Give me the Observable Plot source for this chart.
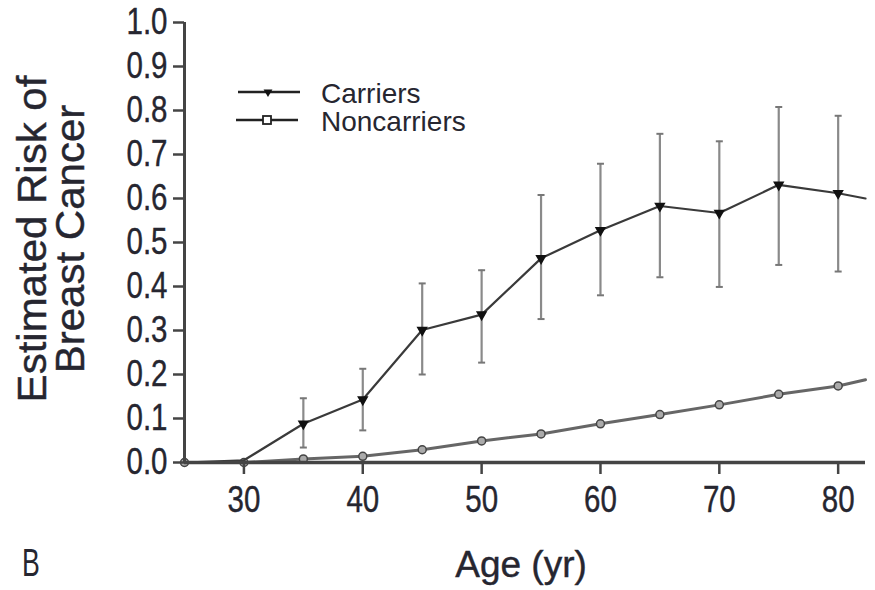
<!DOCTYPE html>
<html><head><meta charset="utf-8">
<script src="https://cdn.jsdelivr.net/npm/d3@7"></script>
<script src="https://cdn.jsdelivr.net/npm/@observablehq/plot@0.6"></script>
<style>body{margin:0;background:#fff}</style>
</head><body><div id="chart"></div>
<script>
// ---- data ----
const ages = [25, 30, 35, 40, 45, 50, 55, 60, 65, 70, 75, 80];
const carriers     = [0.000, 0.005, 0.088, 0.143, 0.301, 0.336, 0.464, 0.528, 0.583, 0.567, 0.631, 0.612];
const carriersLow  = [null, null, 0.034, 0.073, 0.200, 0.227, 0.326, 0.380, 0.421, 0.399, 0.449, 0.434];
const carriersHigh = [null, null, 0.146, 0.213, 0.407, 0.437, 0.608, 0.679, 0.747, 0.730, 0.808, 0.788];
const noncarriers  = [0.000, 0.000, 0.008, 0.014, 0.029, 0.049, 0.065, 0.088, 0.109, 0.131, 0.155, 0.174];
// line continues to the right edge of the frame
const edgeAge = 82.3;
const carriersEdge = 0.600;
const noncarriersEdge = 0.188;
const seriesNames = ["Carriers", "Noncarriers"];
const xTicks = [30, 40, 50, 60, 70, 80];
const yTicks = [0, 0.1, 0.2, 0.3, 0.4, 0.5, 0.6, 0.7, 0.8, 0.9, 1.0];
const xTitle = "Age (yr)";
const yTitle = ["Estimated Risk of", "Breast Cancer"];
const panelLabel = "B";

// ---- tables ----
const carrierPts = ages.map((a, i) => ({age: a, v: carriers[i], lo: carriersLow[i], hi: carriersHigh[i]}));
const nonPts = ages.map((a, i) => ({age: a, v: noncarriers[i]}));
const carrierLine = [...carrierPts, {age: edgeAge, v: carriersEdge}];
const nonLine = [...nonPts, {age: edgeAge, v: noncarriersEdge}];
const bars = carrierPts.filter(d => d.lo != null);

const capSymbol = {draw(ctx, size) { const r = Math.sqrt(size / Math.PI); ctx.moveTo(-r, 0); ctx.lineTo(r, 0); }};

const sans = "'Liberation Sans', Arial, Helvetica, sans-serif";
const ink = "#262630";
const axisCol = "#444";

const chart = Plot.plot({
  width: 875, height: 590,
  marginLeft: 184, marginRight: 10, marginTop: 22, marginBottom: 128,
  style: {fontFamily: sans, background: "#fff", color: ink},
  x: {domain: [25, edgeAge], ticks: xTicks},
  y: {domain: [0, 1], ticks: yTicks},
  marks: [
    // error bars
    Plot.ruleX(bars, {x: "age", y1: "lo", y2: "hi", stroke: "#8a8a8a", strokeWidth: 2.2}),
    Plot.dot(bars, {x: "age", y: "hi", symbol: capSymbol, r: 3.5, stroke: "#777", strokeWidth: 2}),
    Plot.dot(bars, {x: "age", y: "lo", symbol: capSymbol, r: 3.5, stroke: "#777", strokeWidth: 2}),
    // noncarriers
    Plot.line(nonLine, {x: "age", y: "v", stroke: "#666", strokeWidth: 3}),
    Plot.dot(nonPts, {x: "age", y: "v", r: 4, stroke: "#444", fill: "#aaa", strokeWidth: 1.5}),
    // carriers
    Plot.line(carrierLine, {x: "age", y: "v", stroke: "#3a3a3a", strokeWidth: 2.2}),
    Plot.dot(carrierPts.slice(2), {x: "age", y: "v", symbol: "triangle2", rotate: 180, r: 4.2, fill: "#111", stroke: "#111"}),
    // axes
    Plot.ruleY([0], {x1: 25, x2: edgeAge, stroke: axisCol, strokeWidth: 3.5}),
    Plot.ruleX([25], {y1: 0, y2: 1, stroke: axisCol, strokeWidth: 3}),
    Plot.axisY({ticks: yTicks, tickFormat: d => d.toFixed(1), tickSize: 11, tickPadding: 6,
      fontSize: 36, stroke: axisCol, strokeWidth: 2.5, fill: ink, label: null, ariaLabel: "y-axis"}),
    Plot.axisX({ticks: xTicks, tickFormat: d => String(d), tickSize: 12, tickPadding: 12,
      fontSize: 36, stroke: axisCol, strokeWidth: 2.5, fill: ink, label: null, ariaLabel: "x-axis"})
  ]
});
document.getElementById("chart").appendChild(chart);

// condense a text element horizontally (the reference uses a narrow face)
function condense(el, f) {
  const w = el.getComputedTextLength();
  el.setAttribute("textLength", (w * f).toFixed(1));
  el.setAttribute("lengthAdjust", "spacingAndGlyphs");
}
const svg = d3.select(chart);
svg.selectAll("g[aria-label='y-axis tick label'] text, g[aria-label='x-axis tick label'] text")
  .each(function() { condense(this, 0.82); })
  .attr("stroke", ink).attr("stroke-width", 0.4);

// ---- titles, panel label, legend ----
const g = svg.append("g").attr("fill", ink);
yTitle.forEach((t, i) => {
  const el = g.append("text").text(t)
    .attr("transform", `translate(${[46, 84][i]},239) rotate(-90)`)
    .attr("text-anchor", "middle")
    .attr("font-family", sans).attr("font-size", 40)
    .attr("stroke", ink).attr("stroke-width", 0.4);
  condense(el.node(), 1.05);
});
g.append("text").text(xTitle).attr("x", 521).attr("y", 577)
  .attr("text-anchor", "middle").attr("font-family", sans).attr("font-size", 37)
  .attr("stroke", ink).attr("stroke-width", 0.4);
const bt = g.append("text").text(panelLabel).attr("x", 22).attr("y", 576)
  .attr("text-anchor", "start").attr("font-family", sans).attr("font-size", 38);
condense(bt.node(), 0.7);

const leg = svg.append("g");
const legY = [92, 120];
const legX1 = [238, 236], legX2 = [300, 298];
seriesNames.forEach((name, i) => {
  const y = legY[i];
  leg.append("line").attr("x1", legX1[i]).attr("x2", legX2[i]).attr("y1", y).attr("y2", y)
    .attr("stroke", "#222").attr("stroke-width", 2.5);
  if (i === 0) {
    leg.append("path").attr("d", d3.symbol(d3.symbolTriangle, 34)())
      .attr("transform", `translate(268,${y}) rotate(180)`).attr("fill", "#111");
  } else {
    leg.append("rect").attr("x", 263).attr("y", y - 4).attr("width", 8).attr("height", 8)
      .attr("fill", "#fff").attr("stroke", "#222").attr("stroke-width", 1.8);
  }
  leg.append("text").text(name).attr("x", 321).attr("y", y + 10.5)
    .attr("text-anchor", "start")
    .attr("font-family", sans).attr("font-size", 28).attr("fill", ink);
});
</script>
</body></html>
